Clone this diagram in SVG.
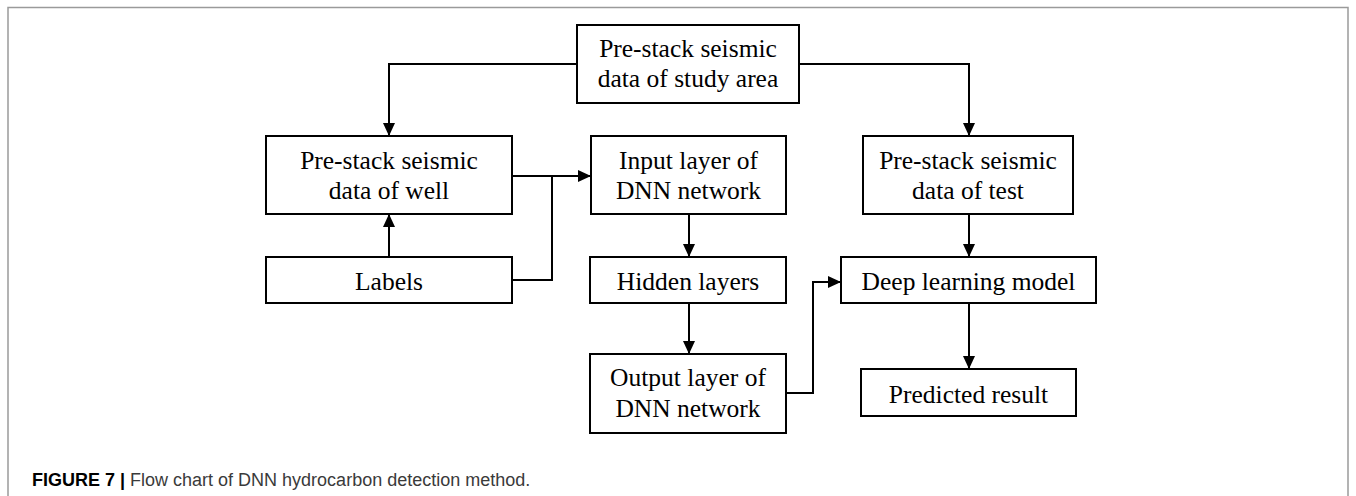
<svg xmlns="http://www.w3.org/2000/svg" width="1356" height="496" viewBox="0 0 1356 496">
<style>
.box{fill:#fff;stroke:#000;stroke-width:2}
.t{font-family:"Liberation Serif","Times New Roman",serif;font-size:25.5px;fill:#000;text-anchor:middle}
.c{fill:none;stroke:#000;stroke-width:2}
.cap{font-family:"Liberation Sans",Arial,sans-serif;font-size:18px}
</style>
<defs>
<marker id="ah" viewBox="0 0 13 12" refX="13" refY="6" markerWidth="13" markerHeight="12" markerUnits="userSpaceOnUse" orient="auto">
<path d="M0,0 L13,6 L0,12 z" fill="#000"/>
</marker>
</defs>
<rect x="8" y="7.5" width="1340" height="520" fill="#fff" stroke="#9a9a9a" stroke-width="1.5"/>
<g id="connectors">
<polyline class="c" points="577,64 389,64 389,136" marker-end="url(#ah)"/>
<polyline class="c" points="799,64 969,64 969,136" marker-end="url(#ah)"/>
<polyline class="c" points="512,176 591,176" marker-end="url(#ah)"/>
<polyline class="c" points="389,257 389,214" marker-end="url(#ah)"/>
<polyline class="c" points="512,280 552,280 552,176"/>
<polyline class="c" points="689,214 689,257" marker-end="url(#ah)"/>
<polyline class="c" points="689,303 689,354" marker-end="url(#ah)"/>
<polyline class="c" points="786,393 813,393 813,282 841,282" marker-end="url(#ah)"/>
<polyline class="c" points="969,214 969,257" marker-end="url(#ah)"/>
<polyline class="c" points="969,303 969,369" marker-end="url(#ah)"/>
</g>
<g id="n-study">
<rect class="box" x="577" y="25" width="222" height="78"/>
<text class="t" x="688" y="57">Pre-stack seismic</text>
<text class="t" x="688" y="87">data of study area</text>
</g>
<g id="n-well">
<rect class="box" x="266" y="136" width="246" height="78"/>
<text class="t" x="389" y="169">Pre-stack seismic</text>
<text class="t" x="389" y="199">data of well</text>
</g>
<g id="n-input">
<rect class="box" x="591" y="136" width="195" height="78"/>
<text class="t" x="688.5" y="169">Input layer of</text>
<text class="t" x="688.5" y="199">DNN network</text>
</g>
<g id="n-test">
<rect class="box" x="863" y="136" width="210" height="78"/>
<text class="t" x="968" y="169">Pre-stack seismic</text>
<text class="t" x="968" y="199">data of test</text>
</g>
<g id="n-labels">
<rect class="box" x="266" y="257" width="246" height="46"/>
<text class="t" x="389" y="290">Labels</text>
</g>
<g id="n-hidden">
<rect class="box" x="590" y="257" width="196" height="46"/>
<text class="t" x="688" y="290">Hidden layers</text>
</g>
<g id="n-deep">
<rect class="box" x="841" y="257" width="255" height="46"/>
<text class="t" x="968.5" y="290">Deep learning model</text>
</g>
<g id="n-output">
<rect class="box" x="590" y="354" width="196" height="79"/>
<text class="t" x="688" y="386">Output layer of</text>
<text class="t" x="688" y="417">DNN network</text>
</g>
<g id="n-predicted">
<rect class="box" x="861" y="369" width="215" height="47"/>
<text class="t" x="968.5" y="403">Predicted result</text>
</g>
<text class="cap" x="32" y="486"><tspan font-weight="bold" fill="#000">FIGURE 7 | </tspan><tspan fill="#3a3a3a">Flow chart of DNN hydrocarbon detection method.</tspan></text>
</svg>
